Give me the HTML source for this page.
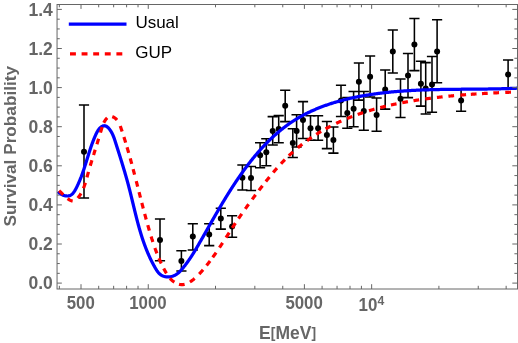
<!DOCTYPE html>
<html><head><meta charset="utf-8"><title>plot</title>
<style>html,body{margin:0;padding:0;background:#fff;}body{width:518px;height:343px;overflow:hidden;position:relative;font-family:"Liberation Sans",sans-serif;}</style>
</head><body>
<svg width="518" height="343" viewBox="0 0 518 343" style="position:absolute;left:0;top:0;will-change:transform">
<rect x="0" y="0" width="518" height="343" fill="#fff"/>
<defs><clipPath id="c"><rect x="57.05" y="4.5" width="460.45" height="284.5"/></clipPath></defs>
<g stroke="#000" stroke-width="1.55" fill="none">
<path d="M84.0,105.0V198.0M78.9,105.0H89.1M78.9,198.0H89.1"/>
<path d="M160.0,219.0V260.7M154.9,219.0H165.1M154.9,260.7H165.1"/>
<path d="M181.4,250.8V271.0M176.3,250.8H186.5M176.3,271.0H186.5"/>
<path d="M192.8,223.8V249.9M187.70000000000002,223.8H197.9M187.70000000000002,249.9H197.9"/>
<path d="M209.2,223.8V245.6M204.1,223.8H214.29999999999998M204.1,245.6H214.29999999999998"/>
<path d="M220.8,208.2V229.1M215.70000000000002,208.2H225.9M215.70000000000002,229.1H225.9"/>
<path d="M232.1,215.8V237.3M227.0,215.8H237.2M227.0,237.3H237.2"/>
<path d="M242.4,165.0V190.0M237.3,165.0H247.5M237.3,190.0H247.5"/>
<path d="M251.0,166.4V190.4M245.9,166.4H256.1M245.9,190.4H256.1"/>
<path d="M260.1,142.8V167.7M255.00000000000003,142.8H265.20000000000005M255.00000000000003,167.7H265.20000000000005"/>
<path d="M266.3,138.8V165.8M261.2,138.8H271.40000000000003M261.2,165.8H271.40000000000003"/>
<path d="M272.7,116.6V145.0M267.59999999999997,116.6H277.8M267.59999999999997,145.0H277.8"/>
<path d="M278.7,115.6V142.7M273.59999999999997,115.6H283.8M273.59999999999997,142.7H283.8"/>
<path d="M285.2,90.2V121.6M280.09999999999997,90.2H290.3M280.09999999999997,121.6H290.3"/>
<path d="M292.8,128.7V157.4M287.7,128.7H297.90000000000003M287.7,157.4H297.90000000000003"/>
<path d="M296.6,114.7V147.0M291.5,114.7H301.70000000000005M291.5,147.0H301.70000000000005"/>
<path d="M303.0,101.6V138.5M297.9,101.6H308.1M297.9,138.5H308.1"/>
<path d="M310.5,115.7V140.2M305.4,115.7H315.6M305.4,140.2H315.6"/>
<path d="M318.1,115.7V140.3M313.0,115.7H323.20000000000005M313.0,140.3H323.20000000000005"/>
<path d="M326.9,121.4V148.6M321.79999999999995,121.4H332.0M321.79999999999995,148.6H332.0"/>
<path d="M333.4,127.0V153.1M328.29999999999995,127.0H338.5M328.29999999999995,153.1H338.5"/>
<path d="M341.0,85.3V116.5M335.9,85.3H346.1M335.9,116.5H346.1"/>
<path d="M347.3,97.5V128.2M342.2,97.5H352.40000000000003M342.2,128.2H352.40000000000003"/>
<path d="M353.6,91.5V126.7M348.5,91.5H358.70000000000005M348.5,126.7H358.70000000000005"/>
<path d="M358.9,63.0V100.1M353.79999999999995,63.0H364.0M353.79999999999995,100.1H364.0"/>
<path d="M363.8,91.4V130.3M358.7,91.4H368.90000000000003M358.7,130.3H368.90000000000003"/>
<path d="M370.1,56.0V97.0M365.0,56.0H375.20000000000005M365.0,97.0H375.20000000000005"/>
<path d="M376.6,98.0V131.3M371.5,98.0H381.70000000000005M371.5,131.3H381.70000000000005"/>
<path d="M385.2,70.0V109.1M380.09999999999997,70.0H390.3M380.09999999999997,109.1H390.3"/>
<path d="M392.8,29.9V72.9M387.7,29.9H397.90000000000003M387.7,72.9H397.90000000000003"/>
<path d="M400.5,78.9V117.5M395.4,78.9H405.6M395.4,117.5H405.6"/>
<path d="M408.0,53.5V97.6M402.9,53.5H413.1M402.9,97.6H413.1"/>
<path d="M414.4,18.4V70.6M409.29999999999995,18.4H419.5M409.29999999999995,70.6H419.5"/>
<path d="M420.9,61.2V106.1M415.79999999999995,61.2H426.0M415.79999999999995,106.1H426.0"/>
<path d="M425.7,62.6V113.9M420.59999999999997,62.6H430.8M420.59999999999997,113.9H430.8"/>
<path d="M432.0,56.5V112.2M426.9,56.5H437.1M426.9,112.2H437.1"/>
<path d="M437.1,19.8V82.8M432.0,19.8H442.20000000000005M432.0,82.8H442.20000000000005"/>
<path d="M461.1,89.2V111.3M456.0,89.2H466.20000000000005M456.0,111.3H466.20000000000005"/>
<path d="M508.1,60.0V88.6M503.0,60.0H513.2M503.0,88.6H513.2"/>
</g>
<g fill="#000">
<circle cx="84.0" cy="151.7" r="3.0"/>
<circle cx="160.0" cy="240.0" r="3.0"/>
<circle cx="181.4" cy="261.0" r="3.0"/>
<circle cx="192.8" cy="236.6" r="3.0"/>
<circle cx="209.2" cy="234.6" r="3.0"/>
<circle cx="220.8" cy="218.6" r="3.0"/>
<circle cx="232.1" cy="226.6" r="3.0"/>
<circle cx="242.4" cy="177.7" r="3.0"/>
<circle cx="251.0" cy="178.0" r="3.0"/>
<circle cx="260.1" cy="155.2" r="3.0"/>
<circle cx="266.3" cy="152.2" r="3.0"/>
<circle cx="272.7" cy="131.1" r="3.0"/>
<circle cx="278.7" cy="129.1" r="3.0"/>
<circle cx="285.2" cy="105.8" r="3.0"/>
<circle cx="292.8" cy="143.1" r="3.0"/>
<circle cx="296.6" cy="130.9" r="3.0"/>
<circle cx="303.0" cy="120.1" r="3.0"/>
<circle cx="310.5" cy="128.2" r="3.0"/>
<circle cx="318.1" cy="128.2" r="3.0"/>
<circle cx="326.9" cy="135.0" r="3.0"/>
<circle cx="333.4" cy="140.1" r="3.0"/>
<circle cx="341.0" cy="100.6" r="3.0"/>
<circle cx="347.3" cy="112.9" r="3.0"/>
<circle cx="353.6" cy="108.8" r="3.0"/>
<circle cx="358.9" cy="81.7" r="3.0"/>
<circle cx="363.8" cy="110.9" r="3.0"/>
<circle cx="370.1" cy="76.7" r="3.0"/>
<circle cx="376.6" cy="114.9" r="3.0"/>
<circle cx="385.2" cy="89.4" r="3.0"/>
<circle cx="392.8" cy="51.6" r="3.0"/>
<circle cx="400.5" cy="98.7" r="3.0"/>
<circle cx="408.0" cy="75.5" r="3.0"/>
<circle cx="414.4" cy="44.6" r="3.0"/>
<circle cx="420.9" cy="83.8" r="3.0"/>
<circle cx="425.7" cy="88.4" r="3.0"/>
<circle cx="432.0" cy="84.5" r="3.0"/>
<circle cx="437.1" cy="51.4" r="3.0"/>
<circle cx="461.1" cy="100.5" r="3.0"/>
<circle cx="508.1" cy="74.5" r="3.0"/>
</g>
<g clip-path="url(#c)" fill="none" stroke-linejoin="round">
<path d="M58.10,191.48 L58.46,191.98 L58.89,192.47 L59.38,192.94 L59.92,193.38 L60.51,193.81 L61.14,194.20 L61.81,194.56 L62.50,194.89 L63.21,195.19 L63.94,195.44 L64.68,195.65 L65.42,195.82 L66.15,195.93 L66.88,195.99 L67.58,196.00 L68.26,195.94 L68.91,195.83 L69.53,195.66 L70.11,195.43 L70.68,195.15 L71.21,194.82 L71.72,194.44 L72.20,194.02 L72.67,193.56 L73.11,193.07 L73.53,192.55 L73.94,192.00 L74.33,191.43 L74.71,190.83 L75.07,190.22 L75.43,189.59 L75.77,188.95 L76.11,188.31 L76.43,187.66 L76.76,187.01 L77.07,186.36 L77.39,185.72 L77.69,185.07 L78.00,184.42 L78.29,183.77 L78.59,183.11 L78.87,182.46 L79.16,181.81 L79.44,181.16 L79.71,180.51 L79.98,179.86 L80.25,179.20 L80.51,178.55 L80.77,177.90 L81.02,177.24 L81.28,176.59 L81.52,175.94 L81.77,175.28 L82.01,174.63 L82.25,173.98 L82.48,173.32 L82.72,172.67 L82.95,172.01 L83.17,171.36 L83.40,170.70 L83.62,170.05 L83.84,169.39 L84.06,168.74 L84.27,168.08 L84.49,167.43 L84.70,166.78 L84.91,166.12 L85.12,165.47 L85.33,164.81 L85.53,164.16 L85.74,163.51 L85.94,162.85 L86.15,162.20 L86.35,161.54 L86.55,160.89 L86.75,160.24 L86.95,159.58 L87.15,158.93 L87.36,158.27 L87.56,157.62 L87.76,156.97 L87.96,156.31 L88.16,155.66 L88.37,155.00 L88.57,154.35 L88.78,153.69 L88.98,153.04 L89.19,152.38 L89.40,151.72 L89.61,151.07 L89.83,150.41 L90.04,149.75 L90.26,149.09 L90.48,148.43 L90.70,147.77 L90.92,147.11 L91.15,146.45 L91.38,145.79 L91.61,145.13 L91.85,144.47 L92.09,143.81 L92.33,143.14 L92.58,142.48 L92.83,141.81 L93.08,141.15 L93.34,140.48 L93.60,139.81 L93.87,139.14 L94.14,138.47 L94.42,137.80 L94.70,137.13 L94.99,136.46 L95.28,135.79 L95.57,135.11 L95.88,134.44 L96.19,133.77 L96.51,133.11 L96.84,132.46 L97.18,131.82 L97.54,131.20 L97.91,130.59 L98.30,130.01 L98.71,129.45 L99.13,128.91 L99.58,128.40 L100.05,127.92 L100.54,127.48 L101.05,127.07 L101.60,126.70 L102.16,126.37 L102.75,126.09 L103.36,125.89 L103.96,125.77 L104.56,125.74 L105.15,125.82 L105.73,125.99 L106.30,126.25 L106.85,126.59 L107.38,126.98 L107.90,127.44 L108.41,127.94 L108.89,128.47 L109.35,129.03 L109.79,129.61 L110.22,130.20 L110.62,130.80 L111.00,131.40 L111.36,132.01 L111.71,132.63 L112.04,133.25 L112.35,133.88 L112.65,134.52 L112.94,135.16 L113.21,135.80 L113.47,136.45 L113.73,137.10 L113.97,137.76 L114.21,138.42 L114.44,139.08 L114.67,139.74 L114.89,140.41 L115.10,141.07 L115.32,141.74 L115.53,142.41 L115.74,143.07 L115.95,143.74 L116.17,144.41 L116.38,145.07 L116.59,145.74 L116.80,146.41 L117.01,147.07 L117.23,147.74 L117.44,148.40 L117.65,149.07 L117.86,149.73 L118.07,150.40 L118.28,151.06 L118.49,151.73 L118.70,152.39 L118.91,153.06 L119.12,153.72 L119.33,154.38 L119.54,155.05 L119.75,155.71 L119.95,156.38 L120.16,157.04 L120.37,157.71 L120.58,158.37 L120.78,159.03 L120.99,159.70 L121.19,160.36 L121.40,161.03 L121.60,161.69 L121.81,162.36 L122.01,163.02 L122.22,163.68 L122.42,164.35 L122.62,165.01 L122.82,165.68 L123.02,166.34 L123.22,167.01 L123.42,167.67 L123.62,168.34 L123.82,169.00 L124.02,169.67 L124.22,170.33 L124.42,171.00 L124.61,171.67 L124.81,172.33 L125.00,173.00 L125.20,173.67 L125.39,174.33 L125.58,175.00 L125.77,175.67 L125.96,176.34 L126.15,177.00 L126.34,177.67 L126.53,178.34 L126.72,179.01 L126.91,179.68 L127.09,180.35 L127.28,181.02 L127.46,181.69 L127.64,182.36 L127.83,183.03 L128.01,183.70 L128.19,184.37 L128.37,185.04 L128.54,185.72 L128.72,186.39 L128.90,187.06 L129.07,187.73 L129.25,188.41 L129.42,189.08 L129.59,189.76 L129.77,190.43 L129.94,191.11 L130.11,191.78 L130.28,192.46 L130.45,193.14 L130.61,193.81 L130.78,194.49 L130.95,195.17 L131.12,195.84 L131.28,196.52 L131.45,197.20 L131.61,197.88 L131.78,198.55 L131.94,199.23 L132.11,199.91 L132.27,200.59 L132.43,201.27 L132.60,201.95 L132.76,202.62 L132.93,203.30 L133.09,203.98 L133.25,204.66 L133.42,205.34 L133.58,206.02 L133.74,206.70 L133.91,207.38 L134.07,208.05 L134.24,208.73 L134.40,209.41 L134.57,210.09 L134.73,210.77 L134.90,211.45 L135.07,212.12 L135.23,212.80 L135.40,213.48 L135.57,214.16 L135.74,214.83 L135.91,215.51 L136.08,216.19 L136.25,216.86 L136.42,217.54 L136.59,218.22 L136.76,218.89 L136.94,219.57 L137.11,220.24 L137.29,220.92 L137.47,221.59 L137.64,222.27 L137.82,222.94 L138.00,223.61 L138.18,224.29 L138.37,224.96 L138.55,225.63 L138.74,226.30 L138.92,226.97 L139.11,227.65 L139.30,228.32 L139.49,228.99 L139.68,229.65 L139.88,230.32 L140.07,230.99 L140.27,231.66 L140.47,232.32 L140.67,232.99 L140.87,233.66 L141.07,234.32 L141.28,234.99 L141.49,235.65 L141.70,236.31 L141.91,236.97 L142.12,237.64 L142.34,238.30 L142.55,238.96 L142.77,239.62 L142.99,240.28 L143.22,240.93 L143.44,241.59 L143.67,242.25 L143.90,242.90 L144.13,243.56 L144.37,244.21 L144.61,244.86 L144.85,245.51 L145.09,246.16 L145.33,246.81 L145.58,247.46 L145.83,248.11 L146.08,248.76 L146.34,249.40 L146.60,250.05 L146.86,250.69 L147.12,251.34 L147.39,251.98 L147.66,252.62 L147.93,253.26 L148.21,253.90 L148.48,254.54 L148.77,255.17 L149.05,255.81 L149.34,256.44 L149.63,257.08 L149.92,257.71 L150.22,258.34 L150.52,258.97 L150.82,259.60 L151.13,260.22 L151.44,260.85 L151.76,261.47 L152.07,262.10 L152.39,262.72 L152.72,263.34 L153.05,263.96 L153.38,264.58 L153.71,265.19 L154.05,265.81 L154.40,266.42 L154.74,267.03 L155.09,267.65 L155.45,268.25 L155.81,268.86 L156.17,269.46 L156.55,270.06 L156.93,270.65 L157.33,271.22 L157.74,271.78 L158.17,272.32 L158.61,272.84 L159.08,273.34 L159.57,273.82 L160.08,274.27 L160.62,274.68 L161.19,275.07 L161.78,275.42 L162.41,275.74 L163.06,276.01 L163.73,276.26 L164.42,276.46 L165.13,276.63 L165.85,276.77 L166.57,276.86 L167.30,276.92 L168.03,276.94 L168.76,276.92 L169.48,276.87 L170.19,276.78 L170.90,276.65 L171.59,276.49 L172.27,276.30 L172.95,276.08 L173.60,275.82 L174.25,275.54 L174.88,275.23 L175.49,274.90 L176.08,274.54 L176.65,274.16 L177.21,273.77 L177.75,273.35 L178.28,272.91 L178.80,272.46 L179.30,271.99 L179.79,271.51 L180.27,271.02 L180.74,270.51 L181.21,270.00 L181.67,269.48 L182.12,268.96 L182.57,268.43 L183.01,267.90 L183.46,267.36 L183.89,266.82 L184.33,266.28 L184.76,265.73 L185.19,265.18 L185.61,264.63 L186.03,264.08 L186.45,263.52 L186.86,262.96 L187.27,262.39 L187.68,261.82 L188.09,261.25 L188.49,260.68 L188.89,260.11 L189.29,259.53 L189.68,258.95 L190.07,258.37 L190.46,257.79 L190.85,257.20 L191.24,256.61 L191.62,256.02 L192.00,255.43 L192.38,254.84 L192.75,254.25 L193.13,253.65 L193.50,253.05 L193.87,252.45 L194.24,251.85 L194.60,251.25 L194.97,250.65 L195.33,250.05 L195.69,249.44 L196.05,248.84 L196.41,248.24 L196.77,247.63 L197.13,247.02 L197.48,246.42 L197.84,245.81 L198.19,245.20 L198.54,244.60 L198.89,243.99 L199.24,243.38 L199.59,242.77 L199.94,242.17 L200.29,241.56 L200.64,240.95 L200.99,240.35 L201.33,239.74 L201.68,239.14 L202.03,238.53 L202.37,237.93 L202.72,237.32 L203.06,236.72 L203.41,236.12 L203.75,235.51 L204.09,234.91 L204.44,234.31 L204.78,233.71 L205.12,233.10 L205.47,232.50 L205.81,231.90 L206.15,231.30 L206.49,230.70 L206.83,230.10 L207.18,229.50 L207.52,228.90 L207.86,228.30 L208.20,227.70 L208.54,227.10 L208.88,226.50 L209.22,225.90 L209.56,225.30 L209.90,224.70 L210.24,224.10 L210.58,223.51 L210.93,222.91 L211.27,222.31 L211.61,221.71 L211.95,221.12 L212.29,220.52 L212.63,219.92 L212.97,219.33 L213.31,218.73 L213.66,218.13 L214.00,217.54 L214.34,216.94 L214.68,216.35 L215.03,215.75 L215.37,215.16 L215.71,214.56 L216.06,213.97 L216.40,213.37 L216.75,212.78 L217.09,212.18 L217.44,211.59 L217.79,210.99 L218.13,210.40 L218.48,209.81 L218.83,209.21 L219.18,208.62 L219.53,208.02 L219.87,207.43 L220.22,206.84 L220.58,206.24 L220.93,205.65 L221.28,205.06 L221.63,204.47 L221.99,203.87 L222.34,203.28 L222.69,202.69 L223.05,202.09 L223.41,201.50 L223.76,200.91 L224.12,200.32 L224.48,199.72 L224.84,199.13 L225.20,198.54 L225.56,197.95 L225.93,197.36 L226.29,196.76 L226.65,196.17 L227.02,195.58 L227.39,194.99 L227.75,194.39 L228.12,193.80 L228.49,193.21 L228.86,192.62 L229.23,192.03 L229.61,191.44 L229.98,190.84 L230.36,190.25 L230.73,189.66 L231.11,189.07 L231.49,188.48 L231.87,187.89 L232.25,187.30 L232.63,186.71 L233.01,186.12 L233.40,185.53 L233.78,184.94 L234.17,184.35 L234.55,183.76 L234.94,183.17 L235.33,182.59 L235.72,182.00 L236.11,181.41 L236.51,180.83 L236.90,180.24 L237.30,179.66 L237.70,179.07 L238.09,178.49 L238.49,177.91 L238.89,177.32 L239.29,176.74 L239.70,176.16 L240.10,175.58 L240.51,175.00 L240.91,174.42 L241.32,173.84 L241.73,173.26 L242.14,172.69 L242.55,172.11 L242.97,171.54 L243.38,170.96 L243.80,170.39 L244.21,169.81 L244.63,169.24 L245.05,168.67 L245.47,168.10 L245.89,167.53 L246.32,166.97 L246.74,166.40 L247.17,165.83 L247.60,165.27 L248.02,164.71 L248.45,164.14 L248.89,163.58 L249.32,163.02 L249.75,162.46 L250.19,161.91 L250.63,161.35 L251.06,160.80 L251.50,160.24 L251.95,159.69 L252.39,159.14 L252.83,158.59 L253.28,158.04 L253.72,157.49 L254.17,156.95 L254.62,156.40 L255.07,155.86 L255.53,155.32 L255.98,154.78 L256.44,154.24 L256.89,153.70 L257.35,153.17 L257.81,152.64 L258.27,152.10 L258.74,151.57 L259.20,151.04 L259.67,150.52 L260.14,149.99 L260.61,149.47 L261.08,148.95 L261.55,148.43 L262.02,147.91 L262.50,147.39 L262.97,146.88 L263.45,146.36 L263.93,145.85 L264.41,145.34 L264.90,144.84 L265.38,144.33 L265.87,143.83 L266.36,143.33 L266.84,142.83 L267.34,142.33 L267.83,141.83 L268.32,141.34 L268.82,140.85 L269.32,140.36 L269.82,139.87 L270.32,139.39 L270.82,138.90 L271.32,138.42 L271.83,137.95 L272.34,137.47 L272.84,137.00 L273.36,136.52 L273.87,136.06 L274.38,135.59 L274.90,135.12 L275.42,134.66 L275.93,134.20 L276.46,133.74 L276.98,133.29 L277.50,132.84 L278.03,132.39 L278.56,131.94 L279.09,131.49 L279.62,131.05 L280.15,130.61 L280.69,130.17 L281.22,129.74 L281.76,129.31 L282.30,128.88 L282.84,128.45 L283.39,128.03 L283.93,127.60 L284.48,127.19 L285.03,126.77 L285.58,126.36 L286.13,125.95 L286.69,125.54 L287.24,125.13 L287.80,124.73 L288.36,124.33 L288.92,123.94 L289.49,123.54 L290.05,123.15 L290.62,122.77 L291.19,122.38 L291.76,122.00 L292.33,121.62 L292.91,121.25 L293.49,120.87 L294.06,120.50 L294.64,120.14 L295.23,119.78 L295.81,119.41 L296.40,119.06 L296.99,118.70 L297.58,118.35 L298.17,118.00 L298.76,117.66 L299.35,117.32 L299.95,116.98 L300.55,116.64 L301.15,116.30 L301.75,115.97 L302.35,115.64 L302.96,115.32 L303.56,115.00 L304.17,114.68 L304.78,114.36 L305.39,114.05 L306.01,113.73 L306.62,113.42 L307.24,113.12 L307.85,112.81 L308.47,112.51 L309.09,112.22 L309.71,111.92 L310.34,111.63 L310.96,111.34 L311.59,111.05 L312.22,110.77 L312.85,110.48 L313.48,110.20 L314.11,109.93 L314.74,109.65 L315.37,109.38 L316.01,109.11 L316.65,108.84 L317.29,108.58 L317.93,108.32 L318.57,108.06 L319.21,107.80 L319.85,107.55 L320.50,107.30 L321.14,107.05 L321.79,106.80 L322.44,106.55 L323.09,106.31 L323.74,106.07 L324.39,105.84 L325.04,105.60 L325.70,105.37 L326.35,105.14 L327.01,104.91 L327.66,104.68 L328.32,104.46 L328.98,104.24 L329.64,104.02 L330.30,103.80 L330.96,103.59 L331.63,103.38 L332.29,103.17 L332.96,102.96 L333.62,102.75 L334.29,102.55 L334.96,102.35 L335.63,102.15 L336.30,101.95 L336.97,101.76 L337.64,101.57 L338.31,101.38 L338.98,101.19 L339.66,101.00 L340.33,100.82 L341.01,100.63 L341.68,100.45 L342.36,100.28 L343.04,100.10 L343.71,99.93 L344.39,99.75 L345.07,99.58 L345.75,99.41 L346.43,99.25 L347.12,99.08 L347.80,98.92 L348.48,98.76 L349.16,98.60 L349.85,98.45 L350.53,98.29 L351.22,98.14 L351.90,97.99 L352.59,97.84 L353.28,97.69 L353.96,97.54 L354.65,97.40 L355.34,97.26 L356.03,97.12 L356.72,96.98 L357.41,96.84 L358.10,96.71 L358.79,96.57 L359.48,96.44 L360.17,96.31 L360.86,96.18 L361.55,96.06 L362.24,95.93 L362.93,95.81 L363.63,95.69 L364.32,95.57 L365.01,95.45 L365.71,95.33 L366.40,95.21 L367.09,95.10 L367.79,94.99 L368.48,94.88 L369.17,94.77 L369.87,94.66 L370.56,94.55 L371.26,94.45 L371.95,94.35 L372.65,94.24 L373.34,94.14 L374.04,94.04 L374.73,93.95 L375.43,93.85 L376.12,93.75 L376.82,93.66 L377.51,93.57 L378.21,93.48 L378.90,93.39 L379.60,93.30 L380.29,93.21 L380.99,93.13 L381.68,93.04 L382.38,92.96 L383.07,92.88 L383.77,92.80 L384.46,92.72 L385.16,92.64 L385.85,92.57 L386.55,92.49 L387.24,92.42 L387.93,92.34 L388.63,92.27 L389.32,92.20 L390.02,92.13 L390.71,92.06 L391.40,91.99 L392.10,91.93 L392.79,91.86 L393.49,91.80 L394.18,91.74 L394.87,91.67 L395.57,91.61 L396.26,91.55 L396.95,91.50 L397.65,91.44 L398.34,91.38 L399.03,91.33 L399.73,91.27 L400.42,91.22 L401.11,91.17 L401.81,91.11 L402.50,91.06 L403.19,91.01 L403.89,90.97 L404.58,90.92 L405.27,90.87 L405.97,90.83 L406.66,90.78 L407.35,90.74 L408.04,90.69 L408.74,90.65 L409.43,90.61 L410.12,90.57 L410.82,90.53 L411.51,90.49 L412.20,90.45 L412.89,90.42 L413.59,90.38 L414.28,90.34 L414.97,90.31 L415.66,90.28 L416.36,90.24 L417.05,90.21 L417.74,90.18 L418.44,90.15 L419.13,90.12 L419.82,90.09 L420.51,90.06 L421.21,90.03 L421.90,90.00 L422.59,89.98 L423.28,89.95 L423.98,89.93 L424.67,89.90 L425.36,89.88 L426.05,89.85 L426.75,89.83 L427.44,89.81 L428.13,89.79 L428.82,89.77 L429.52,89.75 L430.21,89.73 L430.90,89.71 L431.59,89.69 L432.29,89.67 L432.98,89.65 L433.67,89.63 L434.36,89.62 L435.06,89.60 L435.75,89.59 L436.44,89.57 L437.14,89.55 L437.83,89.54 L438.52,89.53 L439.21,89.51 L439.91,89.50 L440.60,89.49 L441.29,89.47 L441.99,89.46 L442.68,89.45 L443.37,89.44 L444.06,89.43 L444.76,89.42 L445.45,89.41 L446.14,89.40 L446.84,89.39 L447.53,89.38 L448.22,89.37 L448.92,89.36 L449.61,89.35 L450.30,89.34 L451.00,89.34 L451.69,89.33 L452.38,89.32 L453.08,89.31 L453.77,89.31 L454.46,89.30 L455.16,89.29 L455.85,89.29 L456.55,89.28 L457.24,89.27 L457.93,89.27 L458.63,89.26 L459.32,89.26 L460.02,89.25 L460.71,89.25 L461.40,89.24 L462.10,89.23 L462.79,89.23 L463.49,89.22 L464.18,89.22 L464.88,89.21 L465.57,89.21 L466.27,89.20 L466.96,89.20 L467.66,89.19 L468.35,89.19 L469.05,89.18 L469.74,89.18 L470.44,89.17 L471.13,89.17 L471.83,89.16 L472.52,89.16 L473.22,89.15 L473.91,89.15 L474.61,89.14 L475.30,89.14 L476.00,89.13 L476.70,89.12 L477.39,89.12 L478.09,89.11 L478.78,89.10 L479.48,89.10 L480.18,89.09 L480.87,89.08 L481.57,89.08 L482.27,89.07 L482.96,89.06 L483.66,89.05 L484.36,89.05 L485.06,89.04 L485.75,89.03 L486.45,89.02 L487.15,89.01 L487.85,89.00 L488.54,88.99 L489.24,88.98 L489.94,88.97 L490.64,88.96 L491.33,88.95 L492.03,88.94 L492.73,88.93 L493.43,88.91 L494.13,88.90 L494.83,88.89 L495.53,88.87 L496.22,88.86 L496.92,88.85 L497.62,88.83 L498.32,88.82 L499.02,88.80 L499.72,88.78 L500.42,88.77 L501.12,88.75 L501.82,88.73 L502.52,88.71 L503.22,88.69 L503.92,88.68 L504.62,88.66 L505.32,88.64 L506.02,88.61 L506.73,88.59 L507.43,88.57 L508.13,88.55 L508.83,88.52 L509.53,88.50 L510.23,88.48 L510.93,88.45 L511.64,88.42 L512.34,88.40 L513.04,88.37 L513.74,88.34 L514.45,88.31 L515.15,88.29 L515.85,88.26 L516.55,88.22 L517.26,88.19 L517.96,88.16" stroke="#0000ff" stroke-width="3.25"/>
<path d="M59.11,190.81 L59.45,191.08 L59.78,191.36 L60.12,191.65 L60.46,191.96 L60.80,192.28 L61.14,192.60 L61.48,192.94 L61.83,193.28 L62.17,193.62 L62.52,193.98 L62.88,194.33 L63.23,194.69 M67.56,198.64 L67.97,198.93 L68.37,199.21 L68.79,199.48 L69.20,199.73 L69.63,199.97 L70.05,200.18 L70.49,200.38 L70.93,200.56 L71.37,200.72 L71.81,200.84 L72.25,200.93 L72.68,200.99 M77.69,198.06 L78.00,197.69 L78.30,197.33 L78.59,196.96 L78.88,196.58 L79.16,196.20 L79.43,195.81 L79.70,195.43 L79.96,195.03 L80.22,194.64 L80.47,194.24 L80.71,193.84 L80.95,193.43 M83.47,188.21 L83.64,187.77 L83.82,187.32 L83.99,186.88 L84.15,186.43 L84.32,185.98 L84.48,185.52 L84.63,185.07 L84.79,184.61 L84.94,184.16 L85.09,183.70 L85.23,183.24 L85.38,182.78 M86.93,177.42 L87.06,176.95 L87.18,176.49 L87.31,176.02 L87.44,175.55 L87.57,175.08 L87.70,174.62 L87.83,174.15 L87.96,173.69 L88.09,173.22 L88.22,172.76 L88.35,172.29 L88.48,171.83 M90.25,165.74 L90.39,165.28 L90.52,164.82 L90.66,164.37 L90.80,163.91 L90.93,163.46 L91.07,163.00 L91.21,162.54 L91.35,162.09 L91.49,161.64 L91.62,161.18 L91.76,160.73 L91.90,160.27 M93.51,155.07 L93.65,154.62 L93.80,154.17 L93.94,153.71 L94.08,153.26 L94.22,152.81 L94.36,152.36 L94.50,151.91 L94.64,151.46 L94.79,151.00 L94.93,150.55 L95.07,150.10 L95.21,149.65 M96.91,144.22 L97.05,143.77 L97.20,143.32 L97.34,142.86 L97.48,142.41 L97.62,141.95 L97.76,141.50 L97.90,141.05 L98.04,140.59 L98.18,140.13 L98.32,139.68 L98.46,139.22 L98.60,138.77 M100.48,132.57 L100.61,132.11 L100.75,131.64 L100.89,131.18 L101.02,130.72 L101.16,130.25 L101.29,129.79 L101.43,129.32 L101.57,128.86 L101.71,128.39 L101.85,127.93 L101.99,127.47 L102.14,127.00 M103.83,122.71 L104.05,122.27 L104.28,121.84 L104.52,121.41 L104.77,120.99 L105.03,120.57 L105.30,120.15 L105.59,119.74 L105.89,119.34 L106.20,118.95 L106.53,118.58 L106.87,118.22 L107.21,117.89 M112.22,116.64 L112.68,116.80 L113.13,116.99 L113.58,117.21 L114.02,117.45 L114.45,117.71 L114.86,118.00 L115.26,118.30 L115.64,118.61 L116.00,118.93 L116.35,119.27 L116.68,119.62 L116.99,119.97 M120.24,126.00 L120.40,126.45 L120.57,126.90 L120.72,127.36 L120.88,127.82 L121.04,128.27 L121.19,128.73 L121.35,129.19 L121.50,129.65 L121.66,130.11 L121.81,130.56 L121.96,131.02 L122.12,131.48 M123.94,137.09 L124.08,137.55 L124.23,138.01 L124.37,138.47 L124.52,138.93 L124.66,139.39 L124.80,139.85 L124.95,140.31 L125.09,140.77 L125.23,141.22 L125.37,141.68 L125.51,142.14 L125.65,142.60 M127.06,147.31 L127.20,147.77 L127.34,148.23 L127.47,148.69 L127.60,149.15 L127.74,149.61 L127.87,150.07 L128.01,150.53 L128.14,150.99 L128.27,151.45 L128.40,151.91 L128.54,152.37 L128.67,152.83 M130.22,158.35 L130.35,158.81 L130.48,159.27 L130.60,159.73 L130.73,160.20 L130.85,160.66 L130.98,161.12 L131.11,161.58 L131.23,162.04 L131.36,162.50 L131.48,162.96 L131.61,163.42 L131.73,163.88 M133.15,169.18 L133.27,169.64 L133.39,170.10 L133.51,170.56 L133.63,171.03 L133.75,171.49 L133.88,171.95 L134.00,172.41 L134.12,172.87 L134.24,173.33 L134.36,173.79 L134.48,174.25 L134.60,174.72 M136.26,181.17 L136.38,181.63 L136.50,182.10 L136.62,182.56 L136.74,183.02 L136.85,183.48 L136.97,183.94 L137.09,184.40 L137.21,184.86 L137.33,185.33 L137.44,185.79 L137.56,186.25 L137.68,186.71 M139.06,192.13 L139.18,192.59 L139.30,193.05 L139.41,193.52 L139.53,193.98 L139.65,194.44 L139.77,194.90 L139.88,195.36 L140.00,195.82 L140.12,196.28 L140.24,196.75 L140.36,197.21 L140.47,197.67 M141.84,202.97 L141.96,203.43 L142.08,203.90 L142.20,204.36 L142.32,204.82 L142.44,205.28 L142.56,205.74 L142.68,206.20 L142.80,206.66 L142.92,207.12 L143.04,207.58 L143.16,208.04 L143.28,208.51 M144.71,213.92 L144.84,214.38 L144.96,214.84 L145.08,215.30 L145.21,215.76 L145.33,216.22 L145.46,216.69 L145.58,217.15 L145.71,217.61 L145.83,218.07 L145.96,218.53 L146.08,218.99 L146.21,219.45 M147.77,225.09 L147.90,225.55 L148.04,226.01 L148.17,226.47 L148.30,226.93 L148.43,227.39 L148.56,227.85 L148.69,228.31 L148.82,228.77 L148.96,229.23 L149.09,229.69 L149.22,230.14 L149.36,230.60 M151.11,236.45 L151.25,236.91 L151.39,237.37 L151.53,237.83 L151.67,238.28 L151.82,238.74 L151.96,239.20 L152.11,239.65 L152.25,240.11 L152.40,240.56 L152.55,241.02 L152.69,241.47 L152.84,241.93 M154.89,247.93 L155.05,248.38 L155.21,248.83 L155.37,249.28 L155.54,249.72 L155.70,250.17 L155.87,250.62 L156.04,251.07 L156.20,251.51 L156.37,251.96 L156.54,252.41 L156.71,252.85 L156.89,253.30 M158.90,258.27 L159.09,258.70 L159.28,259.14 L159.47,259.58 L159.66,260.01 L159.85,260.45 L160.04,260.88 L160.24,261.32 L160.44,261.75 L160.63,262.19 L160.83,262.62 L161.03,263.05 L161.24,263.48 M163.66,268.38 L163.89,268.81 L164.11,269.23 L164.33,269.65 L164.56,270.07 L164.79,270.48 L165.01,270.90 L165.25,271.32 L165.48,271.73 L165.71,272.15 L165.95,272.56 L166.19,272.97 L166.43,273.38 M169.96,278.32 L170.29,278.68 L170.62,279.03 L170.96,279.38 L171.30,279.72 L171.66,280.05 L172.03,280.38 L172.41,280.70 L172.79,281.01 L173.19,281.31 L173.59,281.61 L174.00,281.89 L174.42,282.17 M179.03,284.24 L179.49,284.36 L179.96,284.45 L180.43,284.53 L180.90,284.59 L181.37,284.63 L181.84,284.65 L182.31,284.65 L182.78,284.63 L183.24,284.58 L183.70,284.52 L184.16,284.44 L184.62,284.34 M189.92,282.01 L190.34,281.74 L190.75,281.47 L191.16,281.19 L191.57,280.91 L191.97,280.62 L192.37,280.32 L192.76,280.02 L193.15,279.72 L193.53,279.41 L193.91,279.10 L194.28,278.79 L194.65,278.48 M199.22,274.05 L199.55,273.70 L199.87,273.35 L200.19,273.00 L200.51,272.65 L200.83,272.29 L201.15,271.94 L201.47,271.58 L201.78,271.22 L202.10,270.87 L202.41,270.51 L202.72,270.15 L203.03,269.79 M206.59,265.48 L206.89,265.11 L207.18,264.74 L207.48,264.36 L207.77,263.99 L208.06,263.61 L208.35,263.24 L208.64,262.86 L208.93,262.48 L209.22,262.11 L209.51,261.73 L209.80,261.35 L210.08,260.97 M212.76,257.33 L213.04,256.94 L213.32,256.56 L213.59,256.17 L213.87,255.78 L214.15,255.39 L214.42,255.00 L214.69,254.61 L214.97,254.22 L215.24,253.83 L215.51,253.44 L215.78,253.05 L216.06,252.66 M219.47,247.62 L219.73,247.23 L220.00,246.83 L220.26,246.43 L220.52,246.03 L220.79,245.64 L221.05,245.24 L221.31,244.84 L221.57,244.44 L221.84,244.04 L222.10,243.64 L222.36,243.24 L222.62,242.84 M226.06,237.53 L226.32,237.12 L226.58,236.72 L226.84,236.32 L227.10,235.92 L227.36,235.52 L227.62,235.11 L227.88,234.71 L228.13,234.31 L228.39,233.91 L228.65,233.51 L228.91,233.11 L229.17,232.70 M232.23,227.99 L232.49,227.59 L232.75,227.19 L233.01,226.79 L233.28,226.39 L233.54,226.00 L233.80,225.60 L234.07,225.20 L234.33,224.80 L234.59,224.40 L234.86,224.00 L235.12,223.61 L235.39,223.21 M238.53,218.56 L238.80,218.16 L239.07,217.77 L239.34,217.38 L239.61,216.98 L239.88,216.59 L240.15,216.20 L240.42,215.80 L240.69,215.41 L240.96,215.02 L241.24,214.63 L241.51,214.24 L241.78,213.84 M245.28,208.87 L245.56,208.48 L245.84,208.09 L246.12,207.71 L246.39,207.32 L246.67,206.93 L246.95,206.54 L247.23,206.16 L247.51,205.77 L247.79,205.38 L248.07,204.99 L248.35,204.61 L248.63,204.22 M252.15,199.41 L252.43,199.03 L252.72,198.65 L253.00,198.26 L253.29,197.88 L253.57,197.50 L253.85,197.11 L254.14,196.73 L254.43,196.35 L254.71,195.97 L255.00,195.59 L255.28,195.20 L255.57,194.82 M258.96,190.36 L259.25,189.98 L259.54,189.60 L259.83,189.22 L260.12,188.84 L260.41,188.46 L260.70,188.08 L260.99,187.71 L261.28,187.33 L261.57,186.95 L261.87,186.57 L262.16,186.20 L262.45,185.82 M265.84,181.50 L266.13,181.13 L266.43,180.75 L266.73,180.38 L267.02,180.01 L267.32,179.63 L267.62,179.26 L267.92,178.89 L268.22,178.52 L268.52,178.15 L268.82,177.78 L269.12,177.41 L269.42,177.04 M273.23,172.46 L273.54,172.09 L273.85,171.73 L274.16,171.37 L274.47,171.01 L274.78,170.64 L275.09,170.28 L275.40,169.92 L275.71,169.56 L276.03,169.20 L276.34,168.85 L276.65,168.49 L276.97,168.13 M280.97,163.72 L281.29,163.37 L281.62,163.03 L281.94,162.68 L282.27,162.33 L282.60,161.99 L282.93,161.64 L283.25,161.30 L283.58,160.96 L283.92,160.62 L284.25,160.28 L284.58,159.93 L284.91,159.60 M288.81,155.75 L289.16,155.42 L289.50,155.09 L289.85,154.77 L290.20,154.44 L290.55,154.12 L290.90,153.79 L291.25,153.47 L291.60,153.15 L291.95,152.83 L292.30,152.51 L292.66,152.19 L293.01,151.87 M297.81,147.74 L298.18,147.44 L298.55,147.14 L298.92,146.83 L299.29,146.53 L299.67,146.23 L300.04,145.93 L300.41,145.64 L300.79,145.34 L301.16,145.04 L301.54,144.75 L301.92,144.45 L302.30,144.16 M307.00,140.65 L307.38,140.37 L307.77,140.09 L308.16,139.81 L308.55,139.54 L308.95,139.26 L309.34,138.99 L309.73,138.71 L310.13,138.44 L310.52,138.17 L310.92,137.90 L311.31,137.63 L311.71,137.36 M316.22,134.41 L316.63,134.15 L317.03,133.90 L317.44,133.65 L317.84,133.39 L318.25,133.14 L318.66,132.89 L319.07,132.64 L319.48,132.39 L319.89,132.15 L320.30,131.90 L320.71,131.65 L321.12,131.41 M325.58,128.85 L326.00,128.62 L326.42,128.39 L326.84,128.16 L327.25,127.93 L327.67,127.71 L328.10,127.48 L328.52,127.25 L328.94,127.03 L329.36,126.81 L329.78,126.58 L330.20,126.36 L330.63,126.14 M336.17,123.38 L336.60,123.18 L337.03,122.97 L337.46,122.77 L337.89,122.57 L338.33,122.37 L338.76,122.17 L339.19,121.97 L339.62,121.77 L340.06,121.57 L340.49,121.38 L340.92,121.18 L341.36,120.99 M347.04,118.55 L347.48,118.37 L347.92,118.19 L348.36,118.01 L348.80,117.84 L349.24,117.66 L349.69,117.48 L350.13,117.31 L350.57,117.13 L351.01,116.96 L351.46,116.79 L351.90,116.62 L352.34,116.45 M357.70,114.47 L358.15,114.31 L358.60,114.16 L359.04,114.00 L359.49,113.84 L359.94,113.69 L360.39,113.53 L360.84,113.38 L361.30,113.23 L361.75,113.07 L362.20,112.92 L362.65,112.77 L363.10,112.62 M369.00,110.76 L369.46,110.62 L369.92,110.48 L370.37,110.34 L370.83,110.21 L371.29,110.07 L371.74,109.94 L372.20,109.81 L372.66,109.67 L373.12,109.54 L373.58,109.41 L374.03,109.28 L374.49,109.15 M380.25,107.60 L380.71,107.48 L381.18,107.36 L381.64,107.24 L382.10,107.12 L382.56,107.00 L383.03,106.89 L383.49,106.77 L383.95,106.66 L384.42,106.55 L384.88,106.43 L385.35,106.32 L385.81,106.21 M390.93,105.02 L391.40,104.92 L391.87,104.81 L392.33,104.71 L392.80,104.61 L393.27,104.51 L393.74,104.41 L394.20,104.31 L394.67,104.21 L395.14,104.11 L395.61,104.01 L396.08,103.91 L396.54,103.82 M402.29,102.68 L402.76,102.59 L403.23,102.50 L403.70,102.41 L404.18,102.32 L404.65,102.24 L405.12,102.15 L405.59,102.07 L406.06,101.98 L406.53,101.90 L407.00,101.81 L407.47,101.73 L407.94,101.65 M413.49,100.71 L413.96,100.63 L414.44,100.56 L414.91,100.48 L415.38,100.41 L415.85,100.33 L416.33,100.26 L416.80,100.18 L417.27,100.11 L417.75,100.04 L418.22,99.97 L418.69,99.89 L419.16,99.82 M425.20,98.95 L425.67,98.89 L426.15,98.82 L426.62,98.76 L427.09,98.70 L427.57,98.63 L428.04,98.57 L428.51,98.51 L428.99,98.44 L429.46,98.38 L429.94,98.32 L430.41,98.26 L430.88,98.20 M436.92,97.46 L437.40,97.40 L437.87,97.35 L438.34,97.29 L438.82,97.24 L439.29,97.18 L439.76,97.13 L440.24,97.08 L440.71,97.02 L441.19,96.97 L441.66,96.92 L442.13,96.87 L442.61,96.81 M448.41,96.21 L448.89,96.16 L449.36,96.12 L449.83,96.07 L450.31,96.02 L450.78,95.98 L451.26,95.93 L451.73,95.89 L452.20,95.84 L452.68,95.80 L453.15,95.75 L453.63,95.71 L454.10,95.67 M460.38,95.12 L460.86,95.08 L461.33,95.04 L461.81,95.00 L462.28,94.96 L462.76,94.92 L463.23,94.89 L463.71,94.85 L464.18,94.81 L464.66,94.77 L465.13,94.74 L465.60,94.70 L466.08,94.66 M470.83,94.31 L471.30,94.28 L471.78,94.25 L472.25,94.21 L472.73,94.18 L473.20,94.15 L473.68,94.12 L474.15,94.08 L474.63,94.05 L475.10,94.02 L475.58,93.99 L476.06,93.96 L476.53,93.93 M482.00,93.59 L482.48,93.56 L482.95,93.53 L483.43,93.50 L483.90,93.48 L484.38,93.45 L484.86,93.42 L485.33,93.40 L485.81,93.37 L486.28,93.34 L486.76,93.32 L487.24,93.29 L487.71,93.26 M493.31,92.97 L493.79,92.95 L494.27,92.92 L494.74,92.90 L495.22,92.88 L495.70,92.85 L496.17,92.83 L496.65,92.81 L497.13,92.79 L497.61,92.76 L498.08,92.74 L498.56,92.72 L499.04,92.70 M505.25,92.42 L505.72,92.40 L506.20,92.38 L506.68,92.36 L507.16,92.34 L507.64,92.32 L508.12,92.30 L508.59,92.28 L509.07,92.26 L509.55,92.25 L510.03,92.23 L510.51,92.21 L510.99,92.19" stroke="#ff0000" stroke-width="3.2"/>
</g>
<g stroke="#666666" stroke-width="1" fill="none">
<rect x="57.05" y="4.5" width="460.45" height="284.5"/>
<path d="M57.05,283.10h4.8M517.5,283.10h-5.2"/>
<path d="M57.05,273.33h2.7M517.5,273.33h-3.1"/>
<path d="M57.05,263.55h2.7M517.5,263.55h-3.1"/>
<path d="M57.05,253.78h2.7M517.5,253.78h-3.1"/>
<path d="M57.05,244.00h4.8M517.5,244.00h-5.2"/>
<path d="M57.05,234.23h2.7M517.5,234.23h-3.1"/>
<path d="M57.05,224.45h2.7M517.5,224.45h-3.1"/>
<path d="M57.05,214.68h2.7M517.5,214.68h-3.1"/>
<path d="M57.05,204.90h4.8M517.5,204.90h-5.2"/>
<path d="M57.05,195.12h2.7M517.5,195.12h-3.1"/>
<path d="M57.05,185.35h2.7M517.5,185.35h-3.1"/>
<path d="M57.05,175.58h2.7M517.5,175.58h-3.1"/>
<path d="M57.05,165.80h4.8M517.5,165.80h-5.2"/>
<path d="M57.05,156.03h2.7M517.5,156.03h-3.1"/>
<path d="M57.05,146.25h2.7M517.5,146.25h-3.1"/>
<path d="M57.05,136.48h2.7M517.5,136.48h-3.1"/>
<path d="M57.05,126.70h4.8M517.5,126.70h-5.2"/>
<path d="M57.05,116.93h2.7M517.5,116.93h-3.1"/>
<path d="M57.05,107.15h2.7M517.5,107.15h-3.1"/>
<path d="M57.05,97.38h2.7M517.5,97.38h-3.1"/>
<path d="M57.05,87.60h4.8M517.5,87.60h-5.2"/>
<path d="M57.05,77.83h2.7M517.5,77.83h-3.1"/>
<path d="M57.05,68.05h2.7M517.5,68.05h-3.1"/>
<path d="M57.05,58.28h2.7M517.5,58.28h-3.1"/>
<path d="M57.05,48.50h4.8M517.5,48.50h-5.2"/>
<path d="M57.05,38.73h2.7M517.5,38.73h-3.1"/>
<path d="M57.05,28.95h2.7M517.5,28.95h-3.1"/>
<path d="M57.05,19.18h2.7M517.5,19.18h-3.1"/>
<path d="M57.05,9.40h4.8M517.5,9.40h-5.2"/>
<path d="M59.35,289.0v-3.1999999999999997M59.35,4.5v2.8"/>
<path d="M81.00,289.0v-4.800000000000001M81.00,4.5v4.4"/>
<path d="M98.69,289.0v-3.1999999999999997M98.69,4.5v2.8"/>
<path d="M113.65,289.0v-3.1999999999999997M113.65,4.5v2.8"/>
<path d="M126.60,289.0v-3.1999999999999997M126.60,4.5v2.8"/>
<path d="M138.03,289.0v-3.1999999999999997M138.03,4.5v2.8"/>
<path d="M148.25,289.0v-4.800000000000001M148.25,4.5v4.4"/>
<path d="M215.50,289.0v-3.1999999999999997M215.50,4.5v2.8"/>
<path d="M254.84,289.0v-3.1999999999999997M254.84,4.5v2.8"/>
<path d="M282.75,289.0v-3.1999999999999997M282.75,4.5v2.8"/>
<path d="M304.40,289.0v-4.800000000000001M304.40,4.5v4.4"/>
<path d="M322.09,289.0v-3.1999999999999997M322.09,4.5v2.8"/>
<path d="M337.05,289.0v-3.1999999999999997M337.05,4.5v2.8"/>
<path d="M350.00,289.0v-3.1999999999999997M350.00,4.5v2.8"/>
<path d="M361.43,289.0v-3.1999999999999997M361.43,4.5v2.8"/>
<path d="M371.65,289.0v-4.800000000000001M371.65,4.5v4.4"/>
<path d="M438.90,289.0v-3.1999999999999997M438.90,4.5v2.8"/>
<path d="M478.24,289.0v-3.1999999999999997M478.24,4.5v2.8"/>
<path d="M506.15,289.0v-3.1999999999999997M506.15,4.5v2.8"/>
</g>
<path d="M68.8,24.2H126.5" stroke="#0000ff" stroke-width="3.2" fill="none"/>
<path d="M70,53.9h5.9m5.7,0h5.9m5.7,0h5.9m5.7,0h5.9m5.7,0h5.9" stroke="#ff0000" stroke-width="3.2" fill="none"/>
<g font-family="Liberation Sans, sans-serif" font-size="17" fill="#000">
<text x="135.4" y="28.0">Usual</text>
<text x="135.2" y="58.0">GUP</text>
</g>
<g font-family="Liberation Sans, sans-serif" font-weight="bold" fill="#666666">
<text transform="translate(52.80,289.30) scale(1.0,1)" font-size="17.5" text-anchor="end">0.0</text>
<text transform="translate(52.80,250.20) scale(1.0,1)" font-size="17.5" text-anchor="end">0.2</text>
<text transform="translate(52.80,211.10) scale(1.0,1)" font-size="17.5" text-anchor="end">0.4</text>
<text transform="translate(52.80,172.00) scale(1.0,1)" font-size="17.5" text-anchor="end">0.6</text>
<text transform="translate(52.80,132.90) scale(1.0,1)" font-size="17.5" text-anchor="end">0.8</text>
<text transform="translate(52.80,93.80) scale(1.0,1)" font-size="17.5" text-anchor="end">1.0</text>
<text transform="translate(52.80,54.70) scale(1.0,1)" font-size="17.5" text-anchor="end">1.2</text>
<text transform="translate(52.80,15.60) scale(1.0,1)" font-size="17.5" text-anchor="end">1.4</text>
<text transform="translate(80.70,309.00) scale(0.935,1)" font-size="18" text-anchor="middle">500</text>
<text transform="translate(147.95,309.00) scale(0.935,1)" font-size="18" text-anchor="middle">1000</text>
<text transform="translate(304.10,309.00) scale(0.935,1)" font-size="18" text-anchor="middle">5000</text>
<text transform="translate(358.60,311.30) scale(0.94,1)" font-size="18" text-anchor="start">10<tspan font-size="13" dx="0.2" dy="-6.7">4</tspan></text>
<text transform="translate(287.60,339.20) scale(0.995,1)" font-size="17.6" text-anchor="middle">E<tspan font-size="14" dy="-0.9">[</tspan><tspan dy="0.9">MeV</tspan><tspan font-size="14" dy="-0.9">]</tspan></text>
<text transform="translate(16.3,146.25) rotate(-90)" text-anchor="middle" font-size="17.2">Survival Probability</text>
</g>
</svg>
</body></html>
